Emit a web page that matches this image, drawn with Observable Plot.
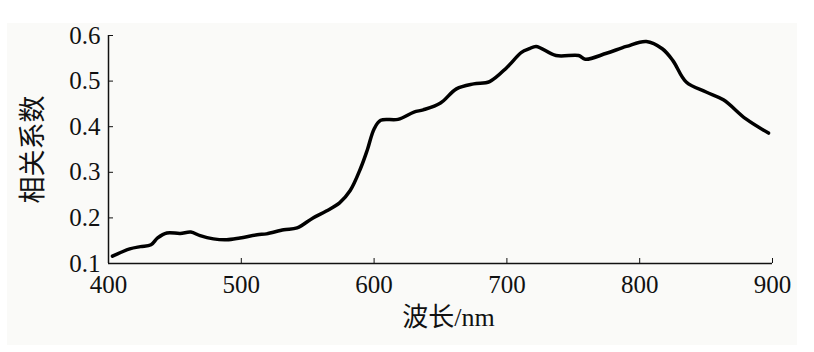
<!DOCTYPE html>
<html><head><meta charset="utf-8">
<script src="https://cdn.jsdelivr.net/npm/d3@7"></script>
<script src="https://cdn.jsdelivr.net/npm/@observablehq/plot@0.6"></script>
<style>
body{margin:0;background:#fff;}
#wrap{position:relative;width:814px;height:352px;}
#panel{position:absolute;left:7px;top:23px;width:790px;height:322px;background:#fafaf8;}
#chart{position:absolute;left:0;top:0;}
</style>
</head><body>
<div id="wrap"><div id="panel"></div><div id="chart"></div></div>
<script>
const wavelength = [403,416,424,432,437,444,454,462,469,479,489,499,512,519,532,542,554,564,574,582,590,595,600,605,618,630,637,650,662,675,687,700,711,717,722,737,754,759,775,790,805,817,825,835,850,863,880,897];
const correlation = [0.116,0.132,0.137,0.141,0.156,0.167,0.166,0.169,0.161,0.154,0.152,0.156,0.163,0.165,0.174,0.178,0.200,0.215,0.233,0.260,0.310,0.350,0.395,0.414,0.416,0.432,0.437,0.452,0.483,0.494,0.499,0.530,0.563,0.571,0.576,0.556,0.556,0.548,0.561,0.576,0.587,0.571,0.545,0.498,0.476,0.459,0.417,0.386];
const xTicks = [400,500,600,700,800,900];
const yTicks = [0.1,0.2,0.3,0.4,0.5,0.6];
const xTitle = "波长/nm";
const yTitle = "相关系数";

const data = wavelength.map((w,i)=>({w, r: correlation[i]}));

const chart = Plot.plot({
  width: 814, height: 352,
  marginLeft: 108, marginRight: 42, marginTop: 35, marginBottom: 89,
  style: {background: "transparent", fontFamily: "'Liberation Serif', 'Times New Roman', serif", fontSize: "25px", color: "#111"},
  x: {domain: [400, 900]},
  y: {domain: [0.1, 0.6]},
  marks: [
    Plot.axisX({ticks: xTicks, tickSize: -5, tickPadding: 17, tickFormat: d=>String(d), label: null, fontSize: 25}),
    Plot.axisY({ticks: yTicks, tickSize: -5, tickPadding: 13, tickFormat: d=>d.toFixed(1), label: null, fontSize: 25}),
    Plot.ruleY([0.1], {stroke: "#111", strokeWidth: 1.5}),
    Plot.ruleX([400], {stroke: "#111", strokeWidth: 1.5}),
    Plot.line(data, {x: "w", y: "r", curve: "catmull-rom", stroke: "#000", strokeWidth: 3.5}),
    Plot.text([xTitle], {frameAnchor: "bottom", dy: 62, dx: 8, fontSize: 26, fontFamily: "'Liberation Serif', 'Noto Sans CJK SC', serif", fill: "#111"}),
    Plot.text([yTitle], {frameAnchor: "left", textAnchor: "middle", dx: -75, rotate: -90, fontSize: 27, fontFamily: "'Noto Sans CJK SC', serif", fill: "#111"})
  ]
});
document.getElementById("chart").appendChild(chart);
</script>
</body></html>
